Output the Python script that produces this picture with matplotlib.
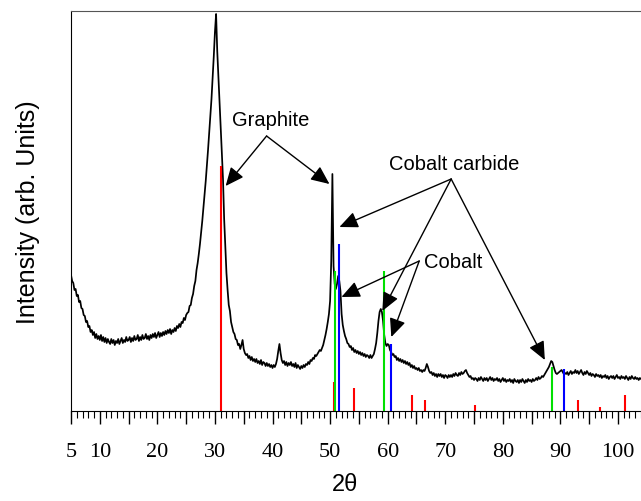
import numpy as np
import matplotlib
matplotlib.use('Agg')
import matplotlib.pyplot as plt
from matplotlib.ticker import MultipleLocator, FuncFormatter

# measured pattern, 2theta step 0.2 deg from 5.0 to 104.0
two_theta = np.round(np.arange(5.0, 104.01, 0.2), 1)
intensity = [
    136, 130, 128, 121, 122, 115, 116, 109, 110, 103,   # 5
    102, 96, 95, 89, 90, 84, 85, 79, 81, 76,            # 7
    79, 73, 77, 72, 75, 71, 76, 70, 74, 69,             # 9
    73, 68, 72, 69, 67, 72, 68, 71, 66, 70,             # 11
    68, 72, 67, 70, 73, 68, 71, 69, 74, 70,             # 13
    71, 74, 69, 73, 70, 75, 71, 72, 76, 70,             # 15
    74, 71, 76, 72, 73, 77, 72, 75, 71, 76,             # 17
    73, 77, 74, 78, 73, 76, 79, 74, 78, 75,             # 19
    79, 76, 80, 77, 81, 78, 82, 77, 81, 79,             # 21
    83, 80, 85, 83, 87, 84, 89, 88, 93, 91,             # 23
    96, 98, 99, 105, 106, 113, 117, 125, 130, 141,      # 25
    148, 157, 167, 178, 190, 203, 216, 230, 245, 261,   # 27
    278, 295, 312, 333, 355, 379, 397, 360, 335, 312,   # 29
    285, 258, 232, 192, 166, 138, 121, 106, 100, 89,    # 31
    84, 79, 77, 72, 71, 66, 67, 62, 66, 71,             # 33
    62, 58, 56, 57, 53, 55, 51, 54, 50, 52,             # 35
    49, 52, 48, 50, 47, 51, 46, 49, 48, 45,             # 37
    48, 45, 47, 44, 46, 43, 46, 44, 47, 52,             # 39
    60, 67, 58, 51, 48, 50, 46, 49, 45, 48,             # 41
    46, 49, 45, 47, 44, 48, 43, 46, 44, 42,             # 43
    45, 43, 46, 44, 47, 46, 49, 47, 51, 50,             # 45
    53, 52, 56, 55, 57, 59, 61, 60, 63, 66,             # 47
    71, 76, 82, 89, 97, 110, 150, 237, 145, 127,        # 49
    122, 127, 135, 130, 120, 97, 86, 80, 75, 72,        # 51
    68, 67, 64, 65, 61, 63, 59, 61, 58, 60,             # 53
    57, 59, 56, 58, 55, 57, 54, 56, 55, 53,             # 55
    56, 53, 55, 57, 62, 68, 78, 90, 99, 102,            # 57
    99, 90, 76, 68, 65, 67, 66, 61, 59, 56,             # 59
    57, 54, 55, 51, 53, 50, 52, 49, 51, 48,             # 61
    50, 47, 49, 46, 48, 44, 46, 43, 45, 42,             # 63
    43, 41, 43, 40, 41, 39, 41, 40, 43, 47,             # 65
    44, 40, 38, 39, 36, 38, 35, 37, 34, 37,             # 67
    35, 37, 34, 36, 33, 36, 35, 33, 36, 34,             # 69
    36, 34, 37, 35, 38, 36, 35, 38, 36, 39,             # 71
    37, 38, 40, 41, 38, 36, 34, 35, 32, 33,             # 73
    31, 33, 32, 30, 33, 31, 34, 32, 30, 33,             # 75
    31, 33, 30, 32, 34, 31, 33, 30, 32, 31,             # 77
    33, 30, 32, 29, 31, 33, 30, 32, 29, 31,             # 79
    30, 32, 29, 31, 28, 32, 30, 29, 31, 28,             # 81
    31, 29, 32, 30, 28, 31, 29, 32, 30, 31,             # 83
    29, 32, 30, 31, 33, 31, 34, 32, 33, 35,             # 85
    34, 36, 38, 40, 42, 44, 47, 50, 49, 45,             # 87
    41, 38, 37, 38, 39, 40, 41, 39, 37, 38,             # 89
    37, 39, 36, 38, 40, 37, 39, 38, 41, 38,             # 91
    40, 37, 39, 41, 38, 36, 39, 37, 40, 38,             # 93
    36, 38, 35, 37, 36, 34, 37, 35, 36, 34,             # 95
    36, 33, 35, 34, 36, 33, 35, 32, 34, 35,             # 97
    33, 35, 32, 34, 36, 33, 34, 32, 35, 33,             # 99
    34, 32, 35, 33, 31, 34, 32, 35, 33, 32,             # 101
    34, 32, 33, 31, 33, 32,                             # 103
]

# reference stick patterns
red_pos = [31.0, 50.6, 54.2, 64.3, 66.5, 75.2, 93.0, 96.9, 101.2]
red_int = [245, 29, 23, 16, 11, 6, 11, 4, 16]
green_pos = [50.8, 59.4, 88.5]
green_int = [140, 140, 44]
blue_pos = [51.6, 60.5, 90.6]
blue_int = [167, 67, 42]

fig = plt.figure(figsize=(6.41, 5.02), dpi=100)
ax = fig.add_axes([71 / 641, 90 / 502, 1 - 71 / 641, 400 / 502])

ax.plot(two_theta, intensity, color='black', lw=1.25)
ax.vlines(red_pos, 0, red_int, color='#ff0000', lw=1.5)
ax.vlines(green_pos, 0, green_int, color='#00e000', lw=1.5)
ax.vlines(blue_pos, 0, blue_int, color='#0000ff', lw=1.5)

ax.set_xlim(5, 104)
ax.set_ylim(0, 400)

ax.spines['right'].set_visible(False)
ax.spines['top'].set_color('#555555')
ax.set_yticks([])
ax.xaxis.set_major_locator(MultipleLocator(5))
ax.xaxis.set_minor_locator(MultipleLocator(1))
ax.xaxis.set_major_formatter(FuncFormatter(lambda v, p: f'{v:.0f}' if (v == 5 or v % 10 == 0) else ''))
ax.tick_params(axis='x', which='major', direction='out', length=9.5, width=1, pad=13,
               labelsize=16, labelfontfamily='Liberation Serif')
ax.tick_params(axis='x', which='minor', direction='out', length=5, width=0.8)

sans = 'Liberation Sans'
fig.text(345 / 641, 1 - 485 / 502, '2θ', ha='center', va='center', fontsize=17, family=sans)
fig.text(28 / 641, 1 - 212 / 502, 'Intensity (arb. Units)', ha='center', va='center',
         rotation=90, fontsize=18, family=sans)

arrow = dict(arrowstyle='-|>,head_length=0.45,head_width=0.2', color='black', lw=1,
             shrinkA=0, shrinkB=0, mutation_scale=25)

# Graphite
ax.text(39.66, 292, 'Graphite', ha='center', va='center', fontsize=14.5, family=sans)
for tip in [(31.86, 225), (49.89, 227)]:
    ax.annotate('', xy=tip, xytext=(38.97, 275), arrowprops=arrow)

# Cobalt carbide
ax.text(71.55, 247, 'Cobalt carbide', ha='center', va='center', fontsize=14.5, family=sans)
for tip in [(51.62, 184), (59.07, 100), (87.3, 51)]:
    ax.annotate('', xy=tip, xytext=(71.03, 232), arrowprops=arrow)

# Cobalt
ax.text(71.38, 149, 'Cobalt', ha='center', va='center', fontsize=14.5, family=sans)
for tip in [(51.97, 114), (60.63, 74)]:
    ax.annotate('', xy=tip, xytext=(65.48, 150), arrowprops=arrow)

fig.savefig('out.png', dpi=100)
